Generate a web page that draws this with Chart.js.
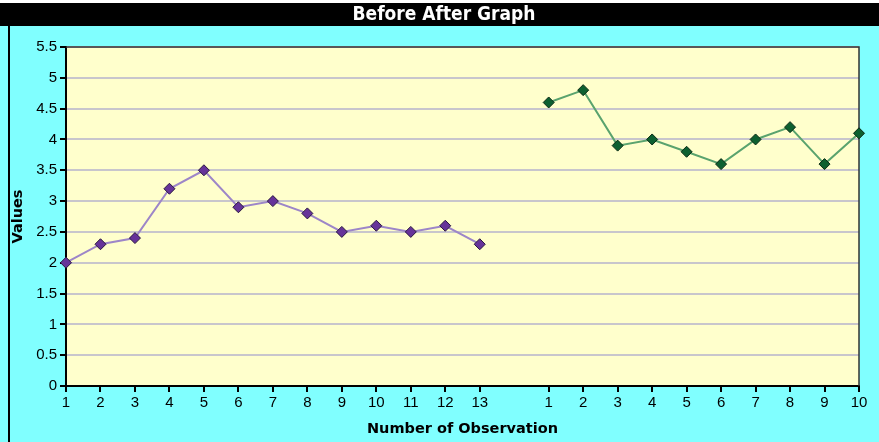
<!DOCTYPE html>
<html>
<head>
<meta charset="utf-8">
<script src="https://cdn.jsdelivr.net/npm/chart.js@4/dist/chart.umd.min.js"></script>
<style>
  html, body { margin: 0; padding: 0; background: #80ffff; }
  #wrap { width: 879px; height: 442px; position: relative; }
</style>
</head>
<body>
<div id="wrap"><canvas id="c" width="879" height="442"></canvas></div>
<script>
// Chart text
const chartTitle = 'Before After Graph';
const xAxisTitle = 'Number of Observation';
const yAxisTitle = 'Values';

// Observation numbers for the two phases
const beforeLabels = ['1', '2', '3', '4', '5', '6', '7', '8', '9', '10', '11', '12', '13'];
const afterLabels = ['1', '2', '3', '4', '5', '6', '7', '8', '9', '10'];

// Measured values
const beforeValues = [2.0, 2.3, 2.4, 3.2, 3.5, 2.9, 3.0, 2.8, 2.5, 2.6, 2.5, 2.6, 2.3];
const afterValues = [4.6, 4.8, 3.9, 4.0, 3.8, 3.6, 4.0, 4.2, 3.6, 4.1];

// Value axis range
const yMin = 0;
const yMax = 5.5;
const yStep = 0.5;

// One empty slot separates the two phases on the category axis
const labels = [...beforeLabels, '', ...afterLabels];
const beforeSeries = [...beforeValues, ...new Array(labels.length - beforeValues.length).fill(null)];
const afterSeries = [...new Array(labels.length - afterValues.length).fill(null), ...afterValues];

const tickFont = { family: '"Liberation Sans", Arial, sans-serif', size: 15 };
const axisTitleFont = { family: '"DejaVu Sans", Verdana, sans-serif', size: 14.5, weight: 'bold' };

const framePlugin = {
  id: 'frame',
  beforeDraw(chart) {
    const { ctx, width, height, chartArea: a } = chart;
    ctx.save();
    ctx.fillStyle = '#80ffff';
    ctx.fillRect(0, 0, width, height);
    ctx.fillStyle = '#ffffff';
    ctx.fillRect(0, 0, width, 3);
    ctx.fillStyle = '#000000';
    ctx.fillRect(0, 3, width, 23);
    ctx.fillRect(8, 26, 2, height - 26);
    ctx.fillStyle = '#ffffcc';
    ctx.fillRect(a.left, a.top, a.right - a.left, a.bottom - a.top);
    ctx.fillStyle = '#ffffff';
    ctx.font = 'bold 19px "DejaVu Sans Condensed"';
    ctx.textAlign = 'center';
    ctx.textBaseline = 'middle';
    ctx.fillText(chartTitle, 444, 15);
    ctx.restore();
  },
  beforeDatasetsDraw(chart) {
    const { ctx, chartArea: a } = chart;
    ctx.save();
    ctx.strokeStyle = '#333333';
    ctx.lineWidth = 1.5;
    ctx.beginPath();
    ctx.moveTo(a.left, a.top);
    ctx.lineTo(a.right, a.top);
    ctx.lineTo(a.right, a.bottom);
    ctx.stroke();
    ctx.restore();
  }
};

new Chart(document.getElementById('c'), {
  type: 'line',
  data: {
    labels: labels,
    datasets: [
      {
        label: 'Before',
        data: beforeSeries,
        borderColor: '#9d86c8',
        borderWidth: 2,
        pointStyle: 'rectRot',
        pointRadius: 5.5,
        pointBackgroundColor: '#663399',
        pointBorderColor: '#2a1840',
        pointBorderWidth: 1,
        spanGaps: false
      },
      {
        label: 'After',
        data: afterSeries,
        borderColor: '#5aa36e',
        borderWidth: 2,
        pointStyle: 'rectRot',
        pointRadius: 5.5,
        pointBackgroundColor: '#0d6030',
        pointBorderColor: '#0a2a14',
        pointBorderWidth: 1,
        spanGaps: false
      }
    ]
  },
  options: {
    responsive: false,
    devicePixelRatio: 1,
    animation: false,
    layout: { padding: { left: 10, top: 47, right: 20, bottom: 4 } },
    plugins: {
      legend: { display: false },
      title: { display: false },
      tooltip: { enabled: false }
    },
    scales: {
      x: {
        type: 'category',
        offset: false,
        border: { color: '#000000', width: 2 },
        grid: {
          drawOnChartArea: false,
          tickLength: 6,
          lineWidth: 2,
          tickColor: (c) => (labels[c.index] === '' ? 'rgba(0,0,0,0)' : '#000000')
        },
        ticks: {
          color: '#000000',
          font: tickFont,
          padding: 2,
          maxRotation: 0,
          autoSkip: false
        },
        title: {
          display: true,
          text: xAxisTitle,
          color: '#000000',
          font: axisTitleFont,
          padding: 0
        },
        afterFit(scale) { scale.height = 52; }
      },
      y: {
        min: yMin,
        max: yMax,
        border: { color: '#000000', width: 2 },
        grid: {
          color: '#c8c6cc',
          lineWidth: 2,
          tickLength: 6,
          tickColor: '#000000'
        },
        ticks: {
          stepSize: yStep,
          color: '#000000',
          font: tickFont,
          padding: 3,
          callback: (v) => String(Number(v.toFixed(1)))
        },
        title: {
          display: true,
          text: yAxisTitle,
          color: '#000000',
          font: axisTitleFont,
          padding: 0
        },
        afterFit(scale) { scale.width = 56; }
      }
    }
  },
  plugins: [framePlugin]
});
</script>
</body>
</html>
